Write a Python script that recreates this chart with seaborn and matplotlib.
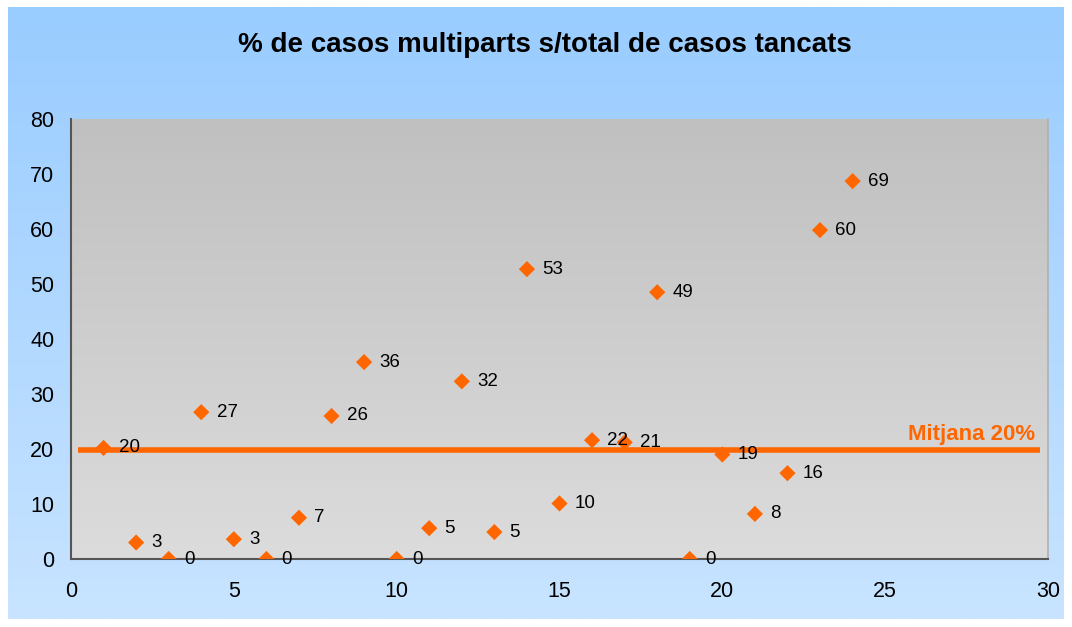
import numpy as np
import pandas as pd
import matplotlib
matplotlib.use("Agg")
import matplotlib.pyplot as plt
import seaborn as sns

# Data
cases = list(range(1, 25))
pct = [20.2, 3.0, 0.0, 26.7, 3.6, 0.0, 7.5, 26.0, 35.8, 0.0, 5.6, 32.3,
       4.9, 52.7, 10.1, 21.6, 21.2, 48.5, 0.0, 19.0, 8.2, 15.6, 59.8, 68.7]
labels = ["20", "3", "0", "27", "3", "0", "7", "26", "36", "0", "5", "32",
          "5", "53", "10", "22", "21", "49", "0", "19", "8", "16", "60", "69"]
mean_value = 19.8
mean_label = "Mitjana 20%"
title = "% de casos multiparts s/total de casos tancats"
xticks = [0, 5, 10, 15, 20, 25, 30]
yticks = [0, 10, 20, 30, 40, 50, 60, 70, 80]

df = pd.DataFrame({"case": cases, "pct": pct, "label": labels})

sns.set_theme(style="white")
plt.rcParams['font.family'] = ['Liberation Sans', 'DejaVu Sans']

W, H = 1072, 627
fig = plt.figure(figsize=(W / 100, H / 100), dpi=100)
fig.patch.set_facecolor("white")

# figure background gradient (blue)
bg = fig.add_axes([8 / W, 8 / H, (W - 16) / W, (H - 15) / H], zorder=-10)
top = np.array([0x99, 0xCC, 0xFF]) / 255
bot = np.array([0xC8, 0xE4, 0xFF]) / 255
t = np.linspace(0, 1, 256)[:, None]
grad = top[None, :] * (1 - t) + bot[None, :] * t
bg.imshow(grad[:, None, :].repeat(2, axis=1), aspect="auto", extent=[0, 1, 0, 1])
bg.set_axis_off()

# main axes
left, right, topy, boty = 71, 1048, 119, 559
ax = fig.add_axes([left / W, 1 - boty / H, (right - left) / W, (boty - topy) / H])
ax.set_facecolor("none")
ax.set_xlim(0, 30)
ax.set_ylim(0, 80)

# plot area gradient (gray)
ptop = np.array([0xC0, 0xC0, 0xC0]) / 255
pbot = np.array([0xDC, 0xDC, 0xDC]) / 255
pgrad = ptop[None, :] * (1 - t) + pbot[None, :] * t
ax.imshow(pgrad[:, None, :].repeat(2, axis=1), aspect="auto",
          extent=[0, 30, 0, 80], zorder=0)

orange = "#FF6600"
ax.plot([0.2, 29.75], [mean_value, mean_value], color=orange, lw=4, zorder=2,
        solid_capstyle="butt")
ax.text(29.6, mean_value + 1.0, mean_label, color=orange, fontsize=16,
        fontweight="bold", ha="right", va="bottom", zorder=3)

sns.scatterplot(data=df, x="case", y="pct", marker="D", s=68, color=orange,
                edgecolor="none", ax=ax, zorder=4, legend=False)
for xv, yv, lb in zip(df["case"], df["pct"], df["label"]):
    ax.annotate(lb, (xv, yv), xytext=(11, 0), textcoords="offset points",
                va="center", ha="left", fontsize=13.5, color="black", zorder=5)

ax.set_xticks(xticks)
ax.set_yticks(yticks)
ax.tick_params(axis="both", labelsize=15.5, colors="black", direction="out",
               length=5, width=1, pad=7, color="#404040")
ax.tick_params(axis="x", pad=11)
for s in ["left", "bottom"]:
    ax.spines[s].set_color("#555555")
    ax.spines[s].set_linewidth(1.5)
for s in ["right", "top"]:
    ax.spines[s].set_color("#B0B0B0")
    ax.spines[s].set_linewidth(1.2)
ax.spines["top"].set_visible(False)
ax.set_xlabel("")
ax.set_ylabel("")

fig.text(545 / W, 1 - 45 / H, title, ha="center", va="center",
         fontsize=20, fontweight="bold", color="black")

fig.savefig("out.png", dpi=100)
